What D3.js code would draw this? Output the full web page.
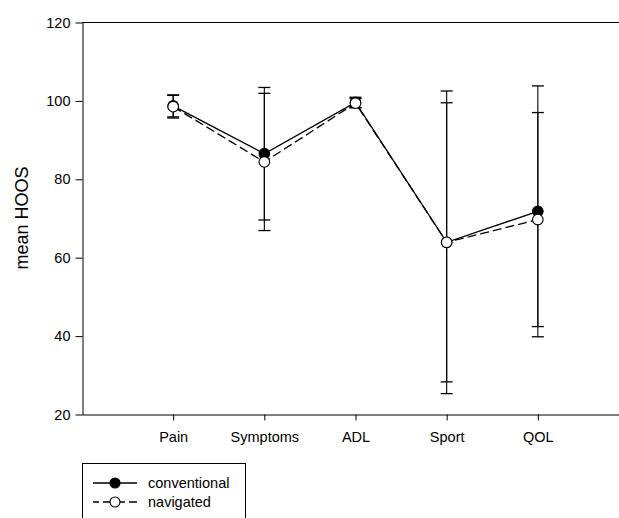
<!DOCTYPE html>
<html>
<head>
<meta charset="utf-8">
<script src="https://cdn.jsdelivr.net/npm/d3@7"></script>
<style>
  body { margin: 0; background: #fff; }
  svg { display: block; font-family: "Liberation Sans", Arial, sans-serif; }
</style>
</head>
<body>
<div id="chart"></div>
<script>
// categories and values
var categories = ["Pain", "Symptoms", "ADL", "Sport", "QOL"];
var conventionalMean = [98.6, 86.4, 99.5, 63.8, 71.7];
var conventionalSD = [2.8, 16.9, 1.3, 38.6, 32.0];
var navigatedMean = [98.4, 84.3, 99.3, 63.8, 69.6];
var navigatedSD = [2.9, 17.5, 1.2, 35.6, 27.3];
var yTicks = [20, 40, 60, 80, 100, 120];
var seriesNames = ["conventional", "navigated"];

var width = 619, height = 518;
var svg = d3.select("#chart").append("svg")
	.attr("width", width)
	.attr("height", height);

// x axis runs past the right edge of the picture, like the original
var x = d3.scaleLinear().domain([0, 6]).range([82, 629]);
var y = d3.scaleLinear().domain([20, 120]).range([414, 22]);

// top frame line
svg.append("line")
	.attr("x1", 82).attr("x2", 629)
	.attr("y1", y(120) + 0.5).attr("y2", y(120) + 0.5)
	.attr("stroke", "#000").attr("stroke-width", 1);

var yAxis = svg.append("g")
	.attr("transform", "translate(82.5,0.5)")
	.call(d3.axisLeft(y).tickValues(yTicks).tickSize(7).tickSizeOuter(0).tickPadding(5));
yAxis.selectAll("text").attr("font-size", "14.5px").attr("font-family", "Liberation Sans, Arial, sans-serif").attr("fill", "#000");

var xAxis = svg.append("g")
	.attr("transform", "translate(0," + (y(20) + 0.5) + ")")
	.call(d3.axisBottom(x).tickValues([1, 2, 3, 4, 5])
		.tickFormat(function (d) { return categories[d - 1]; })
		.tickSize(6).tickSizeOuter(0).tickPadding(11));
xAxis.selectAll("text").attr("font-size", "14.5px").attr("font-family", "Liberation Sans, Arial, sans-serif").attr("fill", "#000");

svg.append("text")
	.attr("transform", "translate(28," + ((y(20) + y(120)) / 2) + ") rotate(-90)")
	.attr("text-anchor", "middle")
	.attr("font-size", "18px")
	.text("mean HOOS");

function makeRows(means, sds) {
	return means.map(function (m, i) {
		return { i: i + 1, mean: m, sd: sds[i] };
	});
}

var series = [
	{ name: seriesNames[0], rows: makeRows(conventionalMean, conventionalSD), dash: null, fill: "#000" },
	{ name: seriesNames[1], rows: makeRows(navigatedMean, navigatedSD), dash: "9,4", fill: "#fff" }
];

var capW = 6;

// error bars
series.forEach(function (s) {
	var g = svg.append("g");
	g.selectAll(".eb").data(s.rows).enter().append("line")
		.attr("x1", function (d) { return x(d.i); })
		.attr("x2", function (d) { return x(d.i); })
		.attr("y1", function (d) { return y(d.mean - d.sd); })
		.attr("y2", function (d) { return y(d.mean + d.sd); })
		.attr("stroke", "#000").attr("stroke-width", 1.1);
	[-1, 1].forEach(function (sign) {
		g.selectAll(".nothing").data(s.rows).enter().append("line")
			.attr("x1", function (d) { return x(d.i) - capW; })
			.attr("x2", function (d) { return x(d.i) + capW; })
			.attr("y1", function (d) { return y(d.mean + sign * d.sd); })
			.attr("y2", function (d) { return y(d.mean + sign * d.sd); })
			.attr("stroke", "#000").attr("stroke-width", 1.3);
	});
});

var line = d3.line()
	.x(function (d) { return x(d.i); })
	.y(function (d) { return y(d.mean); });

series.forEach(function (s) {
	svg.append("path")
		.datum(s.rows)
		.attr("d", line)
		.attr("fill", "none")
		.attr("stroke", "#000")
		.attr("stroke-width", 1.3)
		.attr("stroke-dasharray", s.dash);
});

series.forEach(function (s) {
	svg.append("g").selectAll("circle").data(s.rows).enter().append("circle")
		.attr("cx", function (d) { return x(d.i); })
		.attr("cy", function (d) { return y(d.mean); })
		.attr("r", 5.3)
		.attr("fill", s.fill)
		.attr("stroke", "#000")
		.attr("stroke-width", 1.1);
});

// legend
var legend = svg.append("g");
legend.append("rect")
	.attr("x", 82.5).attr("y", 463.5)
	.attr("width", 163).attr("height", 70)
	.attr("fill", "#fff").attr("stroke", "#000").attr("stroke-width", 1);

series.forEach(function (s, k) {
	var ly = 483 + k * 19;
	legend.append("line")
		.attr("x1", 93).attr("x2", 137)
		.attr("y1", ly).attr("y2", ly)
		.attr("stroke", "#000").attr("stroke-width", 1.3)
		.attr("stroke-dasharray", s.dash ? "9,4" : null)
		.attr("stroke-dashoffset", s.dash ? 3 : null);
	legend.append("circle")
		.attr("cx", 115).attr("cy", ly).attr("r", 5)
		.attr("fill", s.fill).attr("stroke", "#000").attr("stroke-width", 1.1);
	legend.append("text")
		.attr("x", 148).attr("y", ly + 5)
		.attr("font-size", "14.5px")
		.text(s.name);
});
</script>
</body>
</html>
